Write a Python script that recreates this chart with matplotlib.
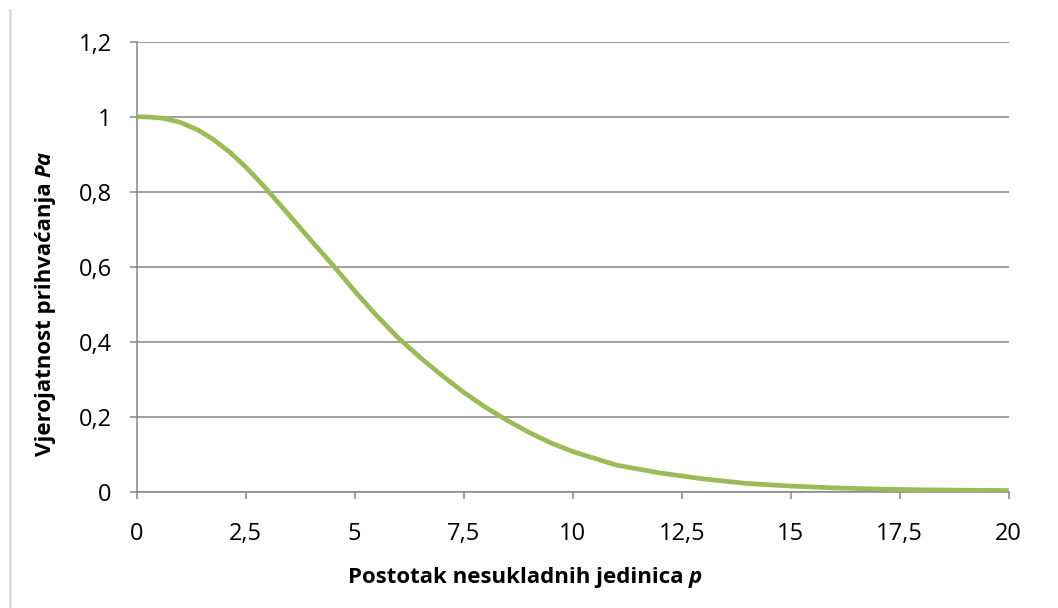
import matplotlib
matplotlib.use("Agg")
import matplotlib.pyplot as plt
from matplotlib.lines import Line2D

# postotak nesukladnih jedinica (p) i vjerojatnost prihvacanja (Pa), ocitano sa slike
p_vals = [0, 0.3, 0.6, 1.0, 1.4, 1.75, 2.15, 2.5, 2.9, 3.2, 3.5, 4, 4.5, 5,
          5.5, 6, 6.5, 7, 7.5, 8, 8.5, 9, 9.5, 10, 11, 12, 12.5, 13, 14, 15,
          16, 17, 18, 19, 20]
pa_vals = [1.0, 0.999, 0.996, 0.985, 0.965, 0.94, 0.904, 0.866, 0.817, 0.777,
           0.737, 0.67, 0.604, 0.535, 0.47, 0.41, 0.358, 0.31, 0.265, 0.225,
           0.19, 0.158, 0.13, 0.107, 0.071, 0.05, 0.042, 0.034, 0.022, 0.015,
           0.01, 0.007, 0.005, 0.004, 0.003]

x_ticks = [0, 2.5, 5, 7.5, 10, 12.5, 15, 17.5, 20]
y_ticks = [0, 0.2, 0.4, 0.6, 0.8, 1.0, 1.2]

plt.rcParams['font.family'] = ['Open Sans', 'DejaVu Sans']
grey = '#868686'

fig = plt.figure(figsize=(10.58, 6.08), dpi=100)
ax = fig.add_axes([0.1292, 0.1913, 0.8242, 0.7401])

ax.plot(p_vals, pa_vals, color='#9BBB59', lw=3.4, solid_joinstyle='round',
        solid_capstyle='butt', zorder=3)

ax.set_xlim(0, 20)
ax.set_ylim(0, 1.2)
ax.set_xticks(x_ticks)
ax.set_yticks(y_ticks)
ax.set_xticklabels([f'{t:g}'.replace('.', ',') for t in x_ticks])
ax.set_yticklabels([f'{t:g}'.replace('.', ',') for t in y_ticks])

ax.yaxis.grid(True, color=grey, lw=1.1)
ax.set_axisbelow(True)
for s in ['top', 'right']:
    ax.spines[s].set_visible(False)
for s in ['left', 'bottom']:
    ax.spines[s].set_color(grey)
    ax.spines[s].set_linewidth(1.1)
ax.tick_params(axis='both', direction='out', length=5, width=1.1, color=grey,
               labelsize=17, labelcolor='black')
ax.tick_params(axis='y', pad=13)
ax.tick_params(axis='x', pad=17)

# naslov osi x: dio teksta podebljan, "p" podebljano-kurzivno
xt = fig.text(348 / 1058, 0.041, 'Postotak nesukladnih jedinica', fontsize=16,
              fontweight='bold', ha='left', va='baseline')
ax.annotate('p', xy=(1, 0.041), xycoords=(xt, 'figure fraction'),
            xytext=(4, 0), textcoords='offset points', fontsize=16,
            fontweight='bold', fontstyle='italic', ha='left', va='baseline',
            annotation_clip=False)

# naslov osi y
yt = fig.text(0.048, 0.25, 'Vjerojatnost prihvaćanja', fontsize=16,
              fontweight='bold', rotation=90, rotation_mode='anchor',
              ha='left', va='baseline')
ax.annotate('Pa', xy=(0.048, 1), xycoords=('figure fraction', yt),
            xytext=(0, 4), textcoords='offset points', fontsize=16,
            fontweight='bold', fontstyle='italic', rotation=90,
            rotation_mode='anchor', ha='left', va='baseline',
            annotation_clip=False)

# rub podrucja grafikona s lijeve strane
fig.add_artist(Line2D([10 / 1058, 10 / 1058], [0, 598 / 608],
                      transform=fig.transFigure, color='#dcdcdc', lw=2))

fig.savefig('out.png', dpi=100)
